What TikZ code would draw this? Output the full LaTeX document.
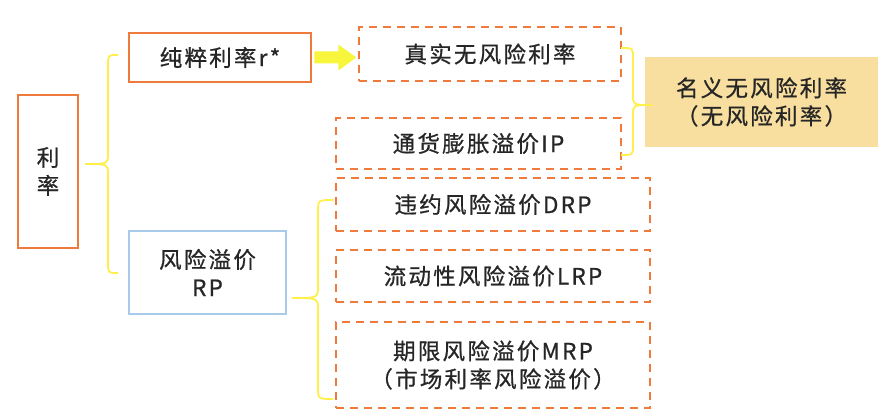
\documentclass[tikz,border=0pt]{standalone}
\usepackage{fontspec}
\setmainfont{Noto Sans CJK SC}[LetterSpace=10,FakeBold=0.8]
\usetikzlibrary{calc}
\definecolor{orng}{HTML}{EE7A3C}
\definecolor{lblue}{HTML}{A9CBEA}
\definecolor{brc}{HTML}{FFEF4A}
\definecolor{arr}{HTML}{F7F53C}
\definecolor{gold}{HTML}{F8DE9F}
\definecolor{txt}{HTML}{262626}
\begin{document}
\begin{tikzpicture}[x=1pt,y=1pt,
  every node/.style={text=txt,font=\fontsize{22.5}{28}\selectfont,align=center,inner sep=0pt},
  solidbox/.style={draw=orng,line width=2.6pt},
  bluebox/.style={draw=lblue,line width=2.2pt},
  dashbox/.style={draw=orng,line width=2.5pt,dash pattern=on 8pt off 6pt},
  goldbox/.style={fill=gold},
  brace/.style={draw=brc,line width=1.8pt}]
\useasboundingbox (0,0) rectangle (878,420);
% left column
\node[solidbox,minimum width=60,minimum height=153] (lilv) at (48,248.5) {利\\率};
\node[solidbox,minimum width=182,minimum height=49] (chuncui) at (220,362.5) {纯粹利率r*};
\node[bluebox,minimum width=157,minimum height=83] (rp) at (207.5,147.5) {风险溢价\\RP};
% middle column
\node[dashbox,minimum width=262,minimum height=54] (zhenshi) at (490,366) {真实无风险利率};
\node[dashbox,minimum width=285,minimum height=51] (tonghuo) at (478.5,276.5) {通货膨胀溢价IP};
\node[dashbox,minimum width=314,minimum height=53] (drp) at (493,215.5) {违约风险溢价DRP};
\node[dashbox,minimum width=314,minimum height=52] (lrp) at (493,144) {流动性风险溢价LRP};
\node[dashbox,minimum width=314,minimum height=86] (mrp) at (493,55) {期限风险溢价MRP\\（市场利率风险溢价）};
% right
\node[goldbox,minimum width=233,minimum height=90] (mingyi) at (761.5,318) {名义无风险利率\\（无风险利率）};
% arrow
\fill[arr] ($(chuncui.east)+(2,-6)$) -- ++(24,0) -- ++(0,-7) -- ++(18,13) -- ++(-18,13) -- ++(0,-7) -- ++(-24,0) -- cycle;
% left brace
\coordinate (b1t) at (118,365);
\coordinate (b1m) at (85,256);
\coordinate (b1b) at (118,147);
\path[brace] (b1t) .. controls (108,365) .. (108,355) -- (108,266) .. controls (108,256) .. (b1m)
  .. controls (108,256) .. (108,246) -- (108,157) .. controls (108,147) .. (b1b);
% right brace
\coordinate (b2t) at (621,372);
\coordinate (b2m) at (652,315);
\coordinate (b2b) at (621,265);
\path[brace] (b2t) .. controls (633,372) .. (633,362) -- (633,325) .. controls (633,315) .. (b2m)
  .. controls (633,315) .. (633,305) -- (633,275) .. controls (633,265) .. (b2b);
% lower brace
\coordinate (b3t) at (333,220);
\coordinate (b3m) at (292,122);
\coordinate (b3b) at (333,21);
\path[brace] (b3t) .. controls (318,220) .. (318,208) -- (318,134) .. controls (318,122) .. (b3m)
  .. controls (318,122) .. (318,110) -- (318,33) .. controls (318,21) .. (b3b);
\end{tikzpicture}
\end{document}
